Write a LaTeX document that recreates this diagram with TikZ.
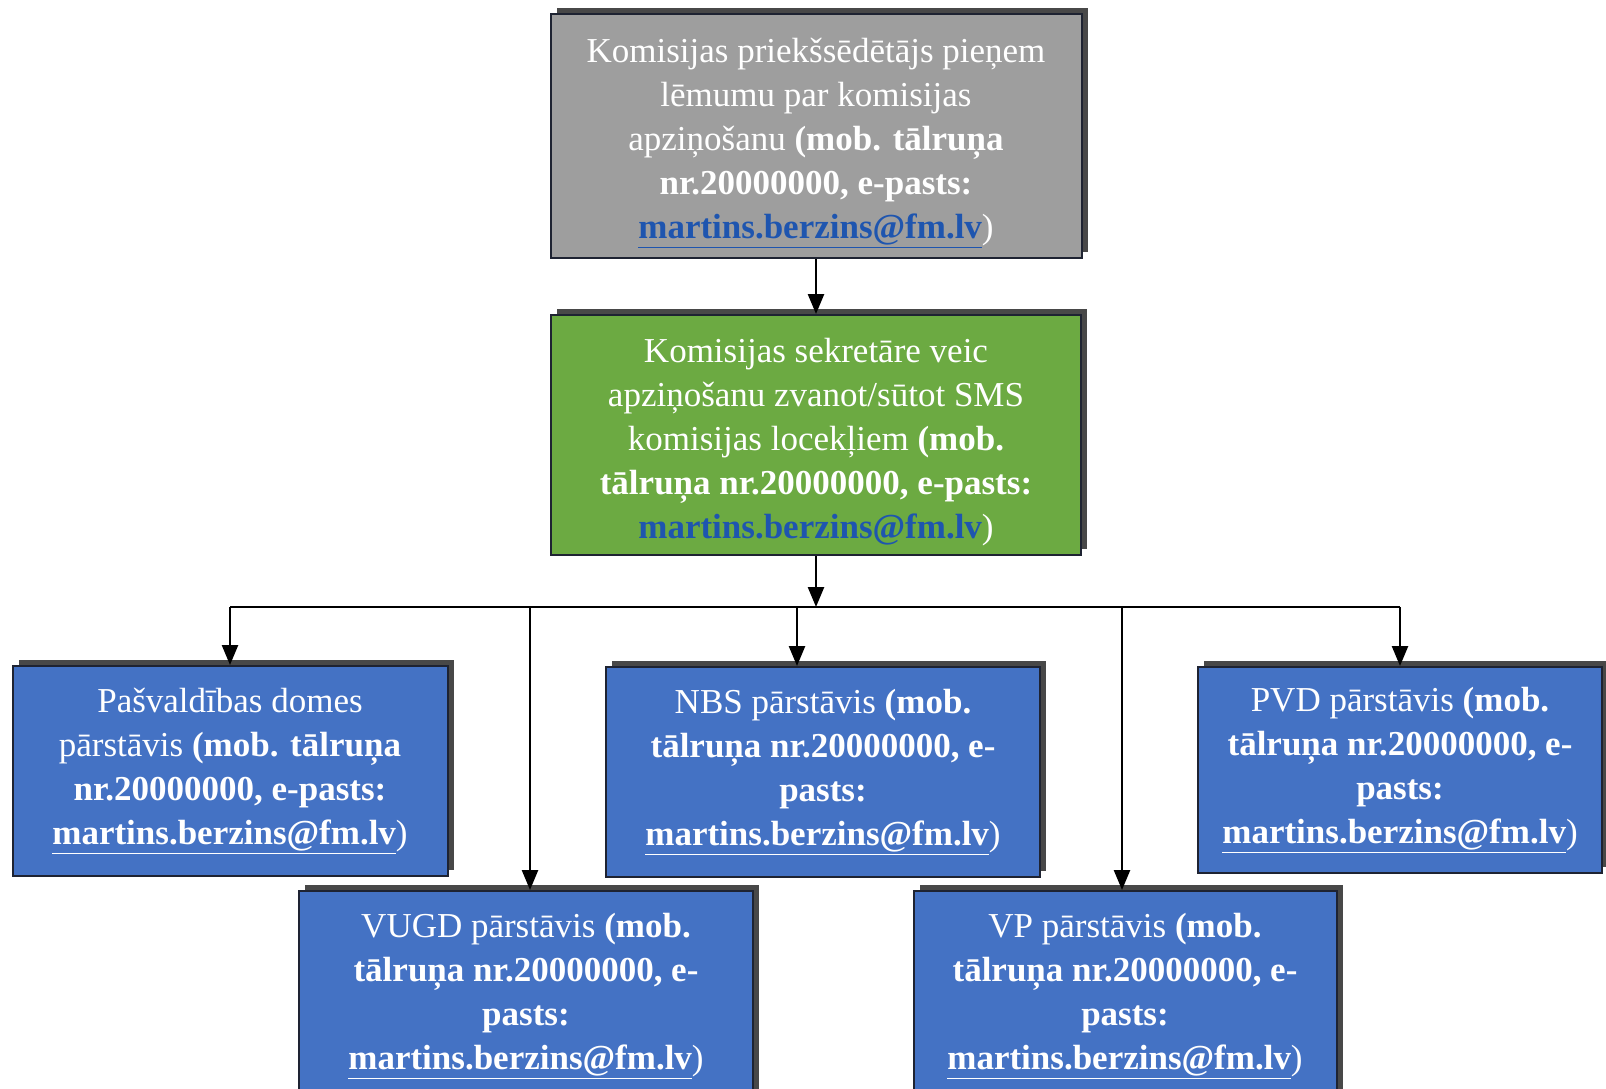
\documentclass[tikz,border=0pt]{standalone}
\usepackage{fontspec}
\setmainfont{Liberation Serif}
\usetikzlibrary{arrows.meta,shadows}
\definecolor{boxblue}{RGB}{68,114,196}
\definecolor{boxgreen}{RGB}{108,170,66}
\definecolor{boxgray}{RGB}{158,158,158}
\definecolor{shadowc}{RGB}{72,72,72}
\definecolor{linkblue}{RGB}{30,85,175}
\definecolor{edgec}{RGB}{30,35,50}
\newcommand{\mymail}[1]{\textbf{\underline{#1}}}
\begin{document}
\begin{tikzpicture}[x=1pt,y=-1pt,
  box/.style={rectangle, draw=edgec, line width=2pt, text=white, align=center, inner sep=0pt,
    font=\fontsize{35}{44}\selectfont,
    drop shadow={shadow xshift=6pt, shadow yshift=6pt, fill=shadowc, opacity=1}},
  bluebox/.style={box, fill=boxblue, minimum width=434pt, minimum height=210pt},
  arr/.style={line width=2.5pt, -{Triangle[length=20pt,width=16pt]}},
  bus/.style={line width=2.5pt}]
\useasboundingbox (0,0) rectangle (1606,1089);
\clip (0,0) rectangle (1606,1089);
\fill[white] (0,0) rectangle (1606,1089);

\node[box, fill=boxgray, minimum width=531pt, minimum height=244pt] (gray) at (816,136)
 {\rule{0pt}{38pt}Komisijas priekšsēdētājs pieņem\\ lēmumu par komisijas\\ apziņošanu \textbf{(mob. tālruņa}\\ \textbf{nr.20000000, e-pasts:}\\ \textcolor{linkblue}{\mymail{martins.berzins@fm.lv}})};

\node[box, fill=boxgreen, minimum width=530pt, minimum height=240pt] (green) at (816,435)
 {\rule{0pt}{39pt}Komisijas sekretāre veic\\ apziņošanu zvanot/sūtot SMS\\ komisijas locekļiem \textbf{(mob.}\\ \textbf{tālruņa nr.20000000, e-pasts:}\\ \textcolor{linkblue}{\textbf{martins.berzins@fm.lv}})};

\node[bluebox, minimum width=435pt] (pas) at (230,771)
 {Pašvaldības domes\\ pārstāvis \textbf{(mob. tālruņa}\\ \textbf{nr.20000000, e-pasts:}\\ \mymail{martins.berzins@fm.lv})};

\node[bluebox] (nbs) at (823,772)
 {NBS pārstāvis \textbf{(mob.}\\ \textbf{tālruņa nr.20000000, e-}\\ \textbf{pasts:}\\ \mymail{martins.berzins@fm.lv})};

\node[bluebox, minimum width=404pt, minimum height=206pt] (pvd) at (1400,770)
 {PVD pārstāvis \textbf{(mob.}\\ \textbf{tālruņa nr.20000000, e-}\\ \textbf{pasts:}\\ \mymail{martins.berzins@fm.lv})};

\node[bluebox, minimum width=454pt] (vugd) at (526,996)
 {VUGD pārstāvis \textbf{(mob.}\\ \textbf{tālruņa nr.20000000, e-}\\ \textbf{pasts:}\\ \mymail{martins.berzins@fm.lv})};

\node[bluebox, minimum width=423pt] (vp) at (1125,996)
 {VP pārstāvis \textbf{(mob.}\\ \textbf{tālruņa nr.20000000, e-}\\ \textbf{pasts:}\\ \mymail{martins.berzins@fm.lv})};

\coordinate (hub) at (816,607);
\coordinate (busL) at (pas.north |- hub);
\coordinate (busR) at (pvd.north |- hub);
\coordinate (tV) at (530,607);
\coordinate (tN) at (797,607);
\coordinate (tP) at (1122,607);

\draw[arr] (gray.south) -- (green.north);
\draw[arr] (green.south) -- (hub);
\draw[bus] (busL) -- (busR);
\draw[arr] (busL) -- (pas.north);
\draw[arr] (tV) -- (tV |- vugd.north);
\draw[arr] (tN) -- (tN |- nbs.north);
\draw[arr] (tP) -- (tP |- vp.north);
\draw[arr] (busR) -- (pvd.north);
\end{tikzpicture}
\end{document}
